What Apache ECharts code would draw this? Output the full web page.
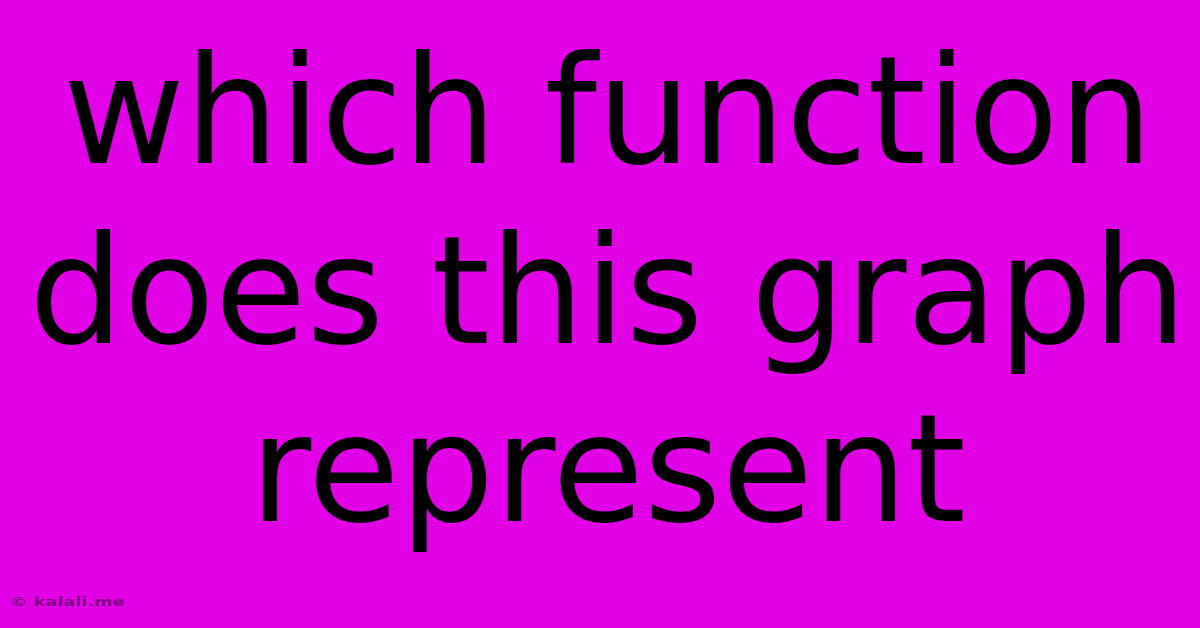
<!DOCTYPE html>
<html>
<head>
<meta charset="utf-8">
<script src="https://cdn.jsdelivr.net/npm/echarts@6/dist/echarts.min.js"></script>
<style>
html,body{margin:0;padding:0;background:#E100E6;}
#chart{width:1200px;height:628px;}
</style>
</head>
<body>
<div id="chart"></div>
<script>
const titleLines = ['which function', 'does this graph', 'represent'];
const lineCenters = [124, 304, 482];
const watermark = '\u00A9 kalali.me';

const chart = echarts.init(document.getElementById('chart'), null, {renderer: 'canvas'});
const elements = titleLines.map((t, i) => ({
  type: 'text',
  x: 608,
  y: lineCenters[i],
  style: {
    text: t,
    font: '149px "DejaVu Sans"',
    fill: '#000000',
    textAlign: 'center',
    textVerticalAlign: 'middle'
  }
}));
elements.push({
  type: 'text',
  x: 10,
  y: 603,
  scaleX: 1.36,
  style: {
    text: watermark,
    font: 'bold 13px "DejaVu Sans"',
    fill: 'rgba(70,0,80,0.65)',
    textAlign: 'left',
    textVerticalAlign: 'middle'
  }
});
chart.setOption({
  backgroundColor: '#E100E6',
  animation: false,
  graphic: elements
});
</script>
</body>
</html>
